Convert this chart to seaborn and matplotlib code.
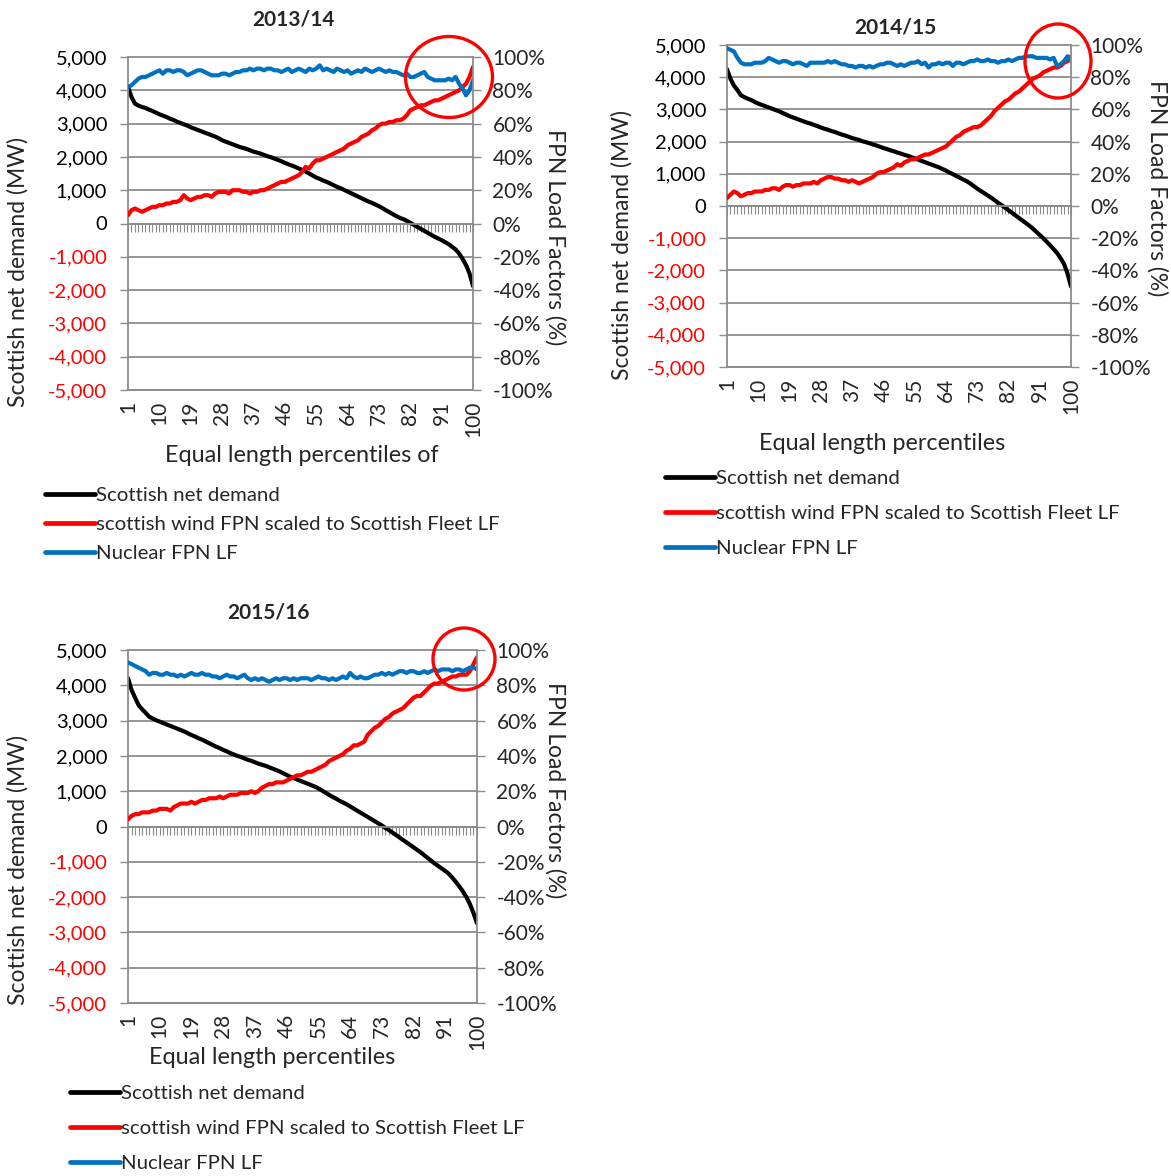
import matplotlib.pyplot as plt
import numpy as np
import pandas as pd
import seaborn as sns
from matplotlib.patches import Ellipse

sns.set_theme(style="white")
plt.rcParams["font.family"] = ["Lato", "DejaVu Sans"]

W, H = 1171, 1176

PERCENTILES = np.arange(1, 101)
X_TICKS = [1, 10, 19, 28, 37, 46, 55, 64, 73, 82, 91, 100]
LEFT_TICKS = [-5000, -4000, -3000, -2000, -1000, 0, 1000, 2000, 3000, 4000, 5000]
RIGHT_TICKS = [-100, -80, -60, -40, -20, 0, 20, 40, 60, 80, 100]

LEGEND_LABELS = [
    "Scottish net demand",
    "scottish wind FPN scaled to Scottish Fleet LF",
    "Nuclear FPN LF",
]

# ---- 2013/14 ----
DEMAND_1314 = [
    4100, 3800, 3600, 3540, 3500, 3470, 3420, 3380, 3330, 3280,
    3240, 3200, 3150, 3110, 3060, 3020, 2980, 2940, 2890, 2850,
    2810, 2770, 2730, 2690, 2650, 2610, 2560, 2500, 2460, 2420,
    2380, 2340, 2300, 2270, 2240, 2200, 2160, 2130, 2100, 2060,
    2020, 1990, 1950, 1910, 1870, 1820, 1780, 1740, 1700, 1650,
    1610, 1560, 1500, 1440, 1380, 1340, 1290, 1250, 1200, 1150,
    1100, 1060, 1010, 960, 910, 860, 810, 760, 710, 660,
    620, 570, 520, 460, 400, 340, 280, 220, 170, 130,
    80, 20, -40, -100, -160, -220, -280, -340, -400, -450,
    -500, -560, -620, -700, -780, -900, -1060, -1250, -1500, -1880,
]
WIND_1314 = [
    5, 8, 9, 8, 7, 8, 9, 10, 10, 11,
    11, 12, 12, 13, 13, 14, 17, 15, 14, 15,
    16, 16, 17, 17, 16, 18, 19, 19, 19, 18,
    20, 20, 20, 19, 19, 18, 19, 19, 20, 20,
    21, 22, 23, 24, 25, 25, 26, 27, 28, 29,
    31, 34, 33, 36, 38, 38, 39, 40, 41, 42,
    43, 44, 45, 47, 48, 49, 50, 52, 53, 54,
    56, 57, 59, 60, 60, 61, 61, 62, 62, 63,
    65, 68, 69, 70, 71, 71, 72, 73, 74, 74,
    75, 76, 77, 78, 79, 80, 82, 84, 88, 94,
]
NUCLEAR_1314 = [
    82, 83, 85, 87, 88, 88, 89, 90, 91, 92,
    90, 92, 92, 91, 92, 92, 91, 89, 90, 91,
    92, 92, 91, 90, 89, 89, 89, 90, 90, 89,
    90, 91, 91, 92, 92, 93, 92, 93, 93, 92,
    93, 93, 92, 92, 91, 92, 93, 91, 92, 93,
    92, 91, 93, 92, 93, 95, 92, 93, 92, 91,
    93, 92, 91, 92, 90, 91, 92, 91, 93, 92,
    91, 92, 93, 92, 91, 92, 91, 91, 90, 89,
    90, 88, 88, 89, 90, 91, 88, 87, 86, 86,
    86, 86, 87, 86, 88, 84, 81, 77, 80, 86,
]

# ---- 2014/15 ----
DEMAND_1415 = [
    4250, 3950, 3740, 3600, 3440, 3380, 3330, 3290, 3230, 3180,
    3140, 3100, 3060, 3020, 2980, 2940, 2890, 2840, 2790, 2750,
    2710, 2670, 2630, 2590, 2560, 2520, 2480, 2440, 2400, 2370,
    2330, 2300, 2260, 2220, 2190, 2150, 2110, 2080, 2050, 2010,
    1980, 1950, 1910, 1880, 1840, 1800, 1770, 1730, 1700, 1660,
    1630, 1590, 1560, 1520, 1480, 1440, 1400, 1360, 1320, 1280,
    1240, 1200, 1150, 1100, 1040, 990, 930, 880, 820, 770,
    700, 620, 540, 470, 400, 330, 260, 180, 100, 30,
    -50, -130, -210, -290, -370, -450, -530, -610, -700, -800,
    -900, -1000, -1110, -1220, -1340, -1460, -1620, -1800, -2100, -2500,
]
WIND_1415 = [
    5, 7, 9, 8, 6, 7, 8, 8, 9, 9,
    9, 10, 10, 11, 11, 10, 12, 13, 13, 12,
    13, 13, 14, 14, 14, 15, 14, 16, 17, 18,
    18, 17, 17, 16, 16, 15, 16, 15, 14, 15,
    16, 17, 18, 20, 21, 21, 22, 23, 24, 26,
    25, 27, 28, 29, 29, 30, 31, 32, 32, 33,
    34, 35, 36, 37, 39, 41, 43, 44, 46, 47,
    48, 49, 49, 50, 52, 54, 56, 59, 61, 63,
    65, 66, 68, 70, 71, 73, 75, 77, 79, 80,
    81, 83, 84, 85, 86, 86, 87, 89, 90, 93,
]
NUCLEAR_1415 = [
    98, 97, 96, 92, 89, 88, 88, 88, 89, 89,
    89, 90, 92, 91, 90, 89, 90, 90, 89, 88,
    89, 89, 88, 87, 89, 89, 89, 89, 89, 90,
    89, 90, 89, 88, 88, 87, 87, 86, 87, 87,
    86, 87, 86, 87, 88, 88, 89, 89, 88, 87,
    88, 87, 88, 89, 89, 90, 88, 89, 86, 88,
    88, 89, 88, 89, 89, 87, 89, 89, 88, 89,
    90, 90, 91, 90, 90, 91, 90, 90, 89, 90,
    90, 91, 90, 91, 92, 92, 93, 93, 93, 92,
    92, 92, 92, 91, 92, 87, 88, 90, 93, 90,
]

# ---- 2015/16 ----
DEMAND_1516 = [
    4200, 3870, 3650, 3440, 3320, 3220, 3110, 3060, 3010, 2970,
    2930, 2890, 2850, 2810, 2770, 2730, 2690, 2640, 2590, 2550,
    2500, 2460, 2410, 2360, 2310, 2260, 2220, 2170, 2130, 2080,
    2040, 2000, 1970, 1930, 1890, 1860, 1820, 1780, 1750, 1720,
    1680, 1640, 1600, 1560, 1510, 1460, 1410, 1370, 1330, 1290,
    1250, 1210, 1170, 1130, 1080, 1020, 960, 900, 840, 790,
    730, 680, 630, 570, 510, 450, 390, 330, 270, 210,
    150, 90, 30, -40, -100, -170, -240, -310, -380, -450,
    -520, -590, -660, -730, -810, -890, -970, -1050, -1120, -1190,
    -1260, -1340, -1450, -1570, -1700, -1840, -2000, -2200, -2450, -2740,
]
WIND_1516 = [
    4, 6, 7, 7, 8, 8, 8, 9, 9, 10,
    10, 10, 9, 11, 12, 13, 13, 13, 14, 13,
    14, 15, 15, 16, 16, 16, 17, 16, 17, 18,
    18, 18, 19, 19, 19, 20, 19, 20, 22, 23,
    24, 24, 25, 25, 25, 26, 27, 28, 29, 29,
    30, 31, 31, 32, 33, 34, 35, 37, 38, 39,
    40, 41, 43, 44, 46, 46, 47, 48, 52, 54,
    56, 57, 59, 61, 62, 64, 65, 66, 67, 69,
    71, 73, 74, 74, 76, 78, 80, 81, 81, 82,
    83, 84, 85, 85, 86, 86, 86, 88, 92, 96,
]
NUCLEAR_1516 = [
    93, 92, 91, 90, 89, 88, 86, 87, 87, 86,
    86, 87, 86, 86, 85, 86, 85, 86, 87, 86,
    86, 87, 86, 86, 85, 85, 84, 85, 86, 85,
    85, 84, 85, 86, 84, 83, 84, 83, 84, 83,
    82, 83, 84, 83, 84, 84, 83, 84, 83, 84,
    84, 84, 83, 84, 85, 84, 84, 83, 84, 83,
    84, 85, 84, 87, 85, 84, 85, 84, 84, 85,
    86, 86, 87, 86, 87, 86, 87, 88, 88, 87,
    88, 88, 87, 87, 88, 87, 88, 89, 88, 89,
    89, 89, 88, 89, 89, 88, 89, 90, 90, 89,
]

# pixel positions of each panel piece (left, top, right, bottom etc.)
LAYOUTS = [
    dict(title="2013/14", xlabel="Equal length percentiles of",
         box=(128, 57, 473, 390), title_at=(293, 20), ylab_l=(18, 272),
         ylab_r=(555, 237), xlab=(302, 455), legend=(45, 487),
         spacing=0.56, circle=(449, 77, 87, 81)),
    dict(title="2014/15", xlabel="Equal length percentiles",
         box=(727, 45, 1071, 367), title_at=(895, 27), ylab_l=(622, 245),
         ylab_r=(1157, 188), xlab=(882, 443), legend=(665, 470),
         spacing=0.86, circle=(1058, 61, 66, 74)),
    dict(title="2015/16", xlabel="Equal length percentiles",
         box=(128, 650, 477, 1003), title_at=(268, 612), ylab_l=(18, 870),
         ylab_r=(555, 790), xlab=(272, 1058), legend=(70, 1085),
         spacing=0.86, circle=(464, 659, 62, 62)),
]
SERIES = [
    (DEMAND_1314, WIND_1314, NUCLEAR_1314),
    (DEMAND_1415, WIND_1415, NUCLEAR_1415),
    (DEMAND_1516, WIND_1516, NUCLEAR_1516),
]

GREY = "#8C8C8C"
RED = "#FF0000"
BLUE = "#0070C0"
FS_TICK = 14.5
FS_LABEL = 16.5
FS_LEGEND = 14.7


def draw_panel(fig, lay, demand, wind, nuclear):
    l, t, r, b = lay["box"]
    ax = fig.add_axes([l / W, 1 - b / H, (r - l) / W, (b - t) / H])
    df = pd.DataFrame({"pct": PERCENTILES, "demand": demand,
                       "wind": wind, "nuclear": nuclear})

    def to_ax(px, py):
        return (px - l) / (r - l), (b - py) / (b - t)

    sns.lineplot(data=df, x="pct", y="demand", ax=ax, color="black", lw=3)
    ax2 = ax.twinx()
    sns.lineplot(data=df, x="pct", y="wind", ax=ax2, color=RED, lw=3)
    sns.lineplot(data=df, x="pct", y="nuclear", ax=ax2, color=BLUE, lw=3)

    ax.set_xlim(1, 100)
    ax.set_ylim(-5000, 5000)
    ax2.set_ylim(-100, 100)

    # left axis
    ax.set_yticks(LEFT_TICKS)
    ax.set_yticklabels([f"{v:,}" for v in LEFT_TICKS])
    for lbl, v in zip(ax.get_yticklabels(), LEFT_TICKS):
        lbl.set_color(RED if v < 0 else "black")
    ax.tick_params(axis="y", left=True, direction="out", length=6, width=1,
                   color=GREY, labelsize=FS_TICK, pad=9)
    ax.yaxis.grid(True, color=GREY, lw=1.3)
    for gl in ax.get_ygridlines():
        gl.set_clip_on(False)

    # category axis crossing at zero, labels kept low
    ax.set_xticks(X_TICKS)
    ax.set_xticklabels([str(v) for v in X_TICKS])
    ax.set_xticks(PERCENTILES, minor=True)
    ax.spines["top"].set_position(("data", 0))
    ax.tick_params(axis="x", which="both", bottom=False, top=True,
                   labelbottom=True, labeltop=False, direction="in",
                   length=6, width=0.8, color=GREY)
    ax.tick_params(axis="x", which="major", labelrotation=90,
                   labelsize=FS_TICK + 0.5, pad=8)
    for side in ["top", "left", "bottom"]:
        ax.spines[side].set_color(GREY)
        ax.spines[side].set_linewidth(1.3)
    ax.spines["right"].set_visible(False)

    # right axis
    ax2.set_yticks(RIGHT_TICKS)
    ax2.set_yticklabels([f"{v}%" for v in RIGHT_TICKS])
    ax2.tick_params(axis="y", right=True, direction="out", length=6, width=1,
                    color=GREY, labelsize=FS_TICK + 0.5, pad=8)
    for side in ["top", "left", "bottom"]:
        ax2.spines[side].set_visible(False)
    ax2.spines["right"].set_color(GREY)
    ax2.spines["right"].set_linewidth(1.3)

    # labels
    ax.set_ylabel("Scottish net demand (MW)", fontsize=FS_LABEL, va="center")
    ax.yaxis.set_label_coords(*to_ax(*lay["ylab_l"]))
    ax2.set_ylabel("FPN Load Factors (%)", fontsize=FS_LABEL, rotation=270,
                   va="center")
    ax2.yaxis.set_label_coords(*to_ax(*lay["ylab_r"]))
    ax.set_xlabel(lay["xlabel"], fontsize=FS_LABEL + 0.3, va="center")
    ax.xaxis.set_label_coords(*to_ax(*lay["xlab"]))
    tx, ty = to_ax(*lay["title_at"])
    ax.text(tx, ty, lay["title"], transform=ax.transAxes, ha="center",
            va="center", fontsize=15, fontweight="bold")

    # highlight circle
    cx, cy, cw, ch = lay["circle"]
    fig.add_artist(Ellipse((cx / W, 1 - cy / H), cw / W, ch / H,
                           transform=fig.transFigure, fill=False,
                           ec=RED, lw=2.4))

    # legend below the panel
    handles = [ax.lines[0], ax2.lines[0], ax2.lines[1]]
    lx, ly = lay["legend"]
    leg = fig.legend(handles, LEGEND_LABELS, loc="upper left",
                     bbox_to_anchor=(lx / W, 1 - ly / H), frameon=False,
                     fontsize=FS_LEGEND, handlelength=2.45, handletextpad=0.05,
                     labelspacing=lay["spacing"], borderpad=0, borderaxespad=0)
    for line in leg.get_lines():
        line.set_linewidth(3.4)


fig = plt.figure(figsize=(W / 100, H / 100), dpi=100)
for lay, (dem, wnd, nuc) in zip(LAYOUTS, SERIES):
    draw_panel(fig, lay, dem, wnd, nuc)

fig.savefig("out.png", dpi=100)
